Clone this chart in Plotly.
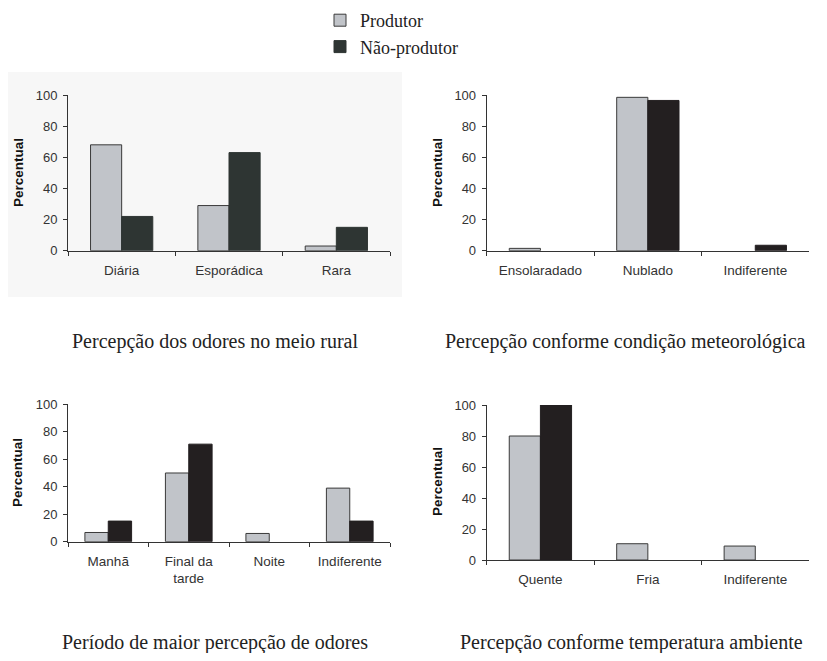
import plotly.graph_objects as go
from plotly.subplots import make_subplots

series_names = ["Produtor", "Não-produtor"]

cat1 = ["Diária", "Esporádica", "Rara"]
prod1 = [68, 29, 3]
nao1 = [22, 63, 15]

cat2 = ["Ensolaradado", "Nublado", "Indiferente"]
prod2 = [1.5, 98.5, 0]
nao2 = [0, 96.5, 3.5]

cat3 = ["Manhã", "Final da<br>tarde", "Noite", "Indiferente"]
prod3 = [6.7, 50, 6, 39]
nao3 = [15, 71, 0, 15]

cat4 = ["Quente", "Fria", "Indiferente"]
prod4 = [80, 10.5, 9]
nao4 = [100, 0, 0]

panel_titles = [
    "Percepção dos odores no meio rural",
    "Percepção conforme condição meteorológica",
    "Período de maior percepção de odores",
    "Percepção conforme temperatura ambiente",
]
y_ticks = [0, 20, 40, 60, 80, 100]
y_title = "Percentual"

# page is 827x661; body has an 8px margin, so the figure is 811x645
PAGE_OFF = 8
W, H = 811, 645
def px(x):
    return (x - PAGE_OFF) / W
def py(y):
    return 1 - (y - PAGE_OFF) / H

PROD_FILL = "#c1c4c9"
NAO_FILL_1 = "#2e3533"
NAO_FILL = "#231f20"
EDGE = "#3a3a3a"

fig = make_subplots(rows=2, cols=2)

panels = [
    (cat1, prod1, nao1, 1, 1, NAO_FILL_1, True),
    (cat2, prod2, nao2, 1, 2, NAO_FILL, False),
    (cat3, prod3, nao3, 2, 1, NAO_FILL, False),
    (cat4, prod4, nao4, 2, 2, NAO_FILL, False),
]
for cats, p, n, r, c, ncol, show in panels:
    fig.add_trace(go.Bar(x=cats, y=p, name=series_names[0], legendgroup="p",
                         showlegend=show,
                         marker=dict(color=PROD_FILL,
                                     line=dict(color=EDGE,
                                               width=[1 if v else 0 for v in p]))),
                  row=r, col=c)
    fig.add_trace(go.Bar(x=cats, y=n, name=series_names[1], legendgroup="n",
                         showlegend=show,
                         marker=dict(color=ncol,
                                     line=dict(color=ncol,
                                               width=[1 if v else 0 for v in n]))),
                  row=r, col=c)

domains = {
    1: dict(x=[px(68), px(390)], y=[py(250.7), py(95)]),
    2: dict(x=[px(486.7), px(809)], y=[py(250.7), py(95)]),
    3: dict(x=[px(68), px(390)], y=[py(541.7), py(404.3)]),
    4: dict(x=[px(486.7), px(809)], y=[py(560), py(405)]),
}
ncats = {1: len(cat1), 2: len(cat2), 3: len(cat3), 4: len(cat4)}
ytickfont = dict(family="Liberation Sans, Arial", size=13, color="#333333")
xtickfont = dict(family="Liberation Sans, Arial", size=13.5, color="#333333")
for i in range(1, 5):
    s = "" if i == 1 else str(i)
    fig.layout["xaxis" + s].update(
        domain=domains[i]["x"], range=[-0.5, ncats[i] - 0.5],
        showline=True, linecolor="#333333", linewidth=1,
        ticks="outside", tickson="boundaries", ticklen=4, tickcolor="#333333",
        ticklabelstandoff=7,
        tickfont=xtickfont, showgrid=False, zeroline=False, fixedrange=True,
        automargin=False)
    fig.layout["yaxis" + s].update(
        domain=domains[i]["y"], range=[0, 100], tickvals=y_ticks,
        showline=True, linecolor="#333333", linewidth=1,
        ticks="outside", ticklen=4, tickcolor="#333333",
        ticklabelstandoff=3,
        tickfont=ytickfont, showgrid=False, zeroline=False, fixedrange=True,
        automargin=False)

annotations = []
title_pos = [(215, 341), (625, 341), (215, 642), (631, 642)]
for t, (x, y) in zip(panel_titles, title_pos):
    annotations.append(dict(text=t, x=px(x), y=py(y), xref="paper", yref="paper",
                            showarrow=False, xanchor="center", yanchor="middle",
                            font=dict(family="Liberation Serif, Times New Roman", size=20,
                                      color="#222222")))
ytitle_pos = [(18, 173), (437, 173), (18, 473), (437, 482)]
for x, y in ytitle_pos:
    annotations.append(dict(text="<b>" + y_title + "</b>", x=px(x), y=py(y),
                            xref="paper", yref="paper", showarrow=False,
                            textangle=-90, xanchor="center", yanchor="middle",
                            font=dict(family="Liberation Sans, Arial", size=13.5,
                                      color="#111111")))

fig.update_layout(
    width=W, height=H, autosize=False,
    margin=dict(l=0, r=0, t=0, b=0, autoexpand=False),
    paper_bgcolor="white", plot_bgcolor="rgba(0,0,0,0)",
    barmode="group", bargap=0.42, bargroupgap=0,
    annotations=annotations,
    shapes=[dict(type="rect", xref="paper", yref="paper",
                 x0=px(0), x1=px(402), y0=py(297), y1=py(72),
                 fillcolor="#f7f7f7", line=dict(width=0), layer="below")],
    legend=dict(x=px(320), y=py(2), xanchor="left", yanchor="top",
                orientation="v", bgcolor="rgba(0,0,0,0)",
                font=dict(family="Liberation Serif, Times New Roman", size=18,
                          color="#222222"),
                tracegroupgap=0),
    showlegend=True,
)

fig.write_html("out.html")
